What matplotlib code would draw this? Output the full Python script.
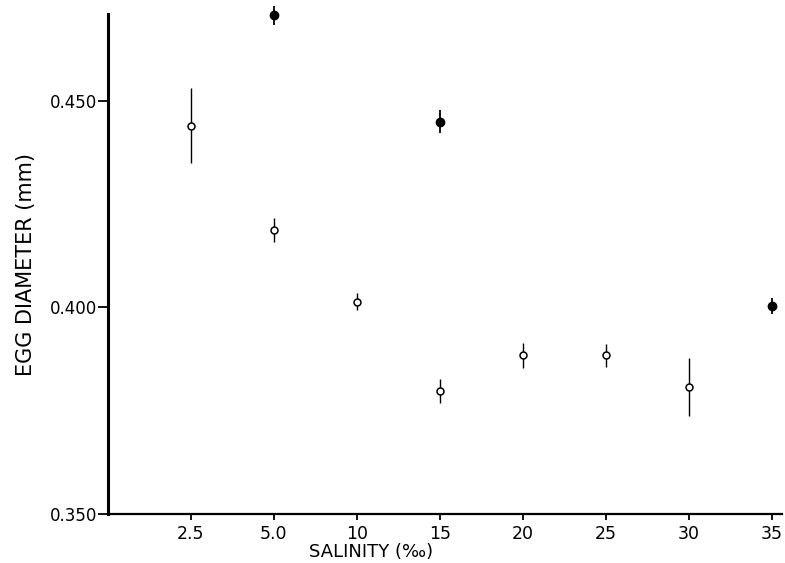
import numpy as np
import matplotlib
matplotlib.use("Agg")
import matplotlib.pyplot as plt

plt.rcParams['font.family'] = ['DejaVu Sans']

salinity = ['2.5', '5.0', '10', '15', '20', '25', '30', '35']

# open circles
open_sal = ['2.5', '5.0', '10', '15', '20', '25', '30']
open_mean = [0.444, 0.4188, 0.4014, 0.3797, 0.3884, 0.3884, 0.3807]
open_err = [0.0091, 0.0029, 0.0020, 0.0029, 0.0031, 0.0028, 0.0070]

# filled circles
fill_sal = ['5.0', '15', '35']
fill_mean = [0.4707, 0.4449, 0.4003]
fill_err = [0.0023, 0.0028, 0.0020]

pos = {s: i + 1 for i, s in enumerate(salinity)}

fig = plt.figure(figsize=(7.85, 5.63), dpi=100)
ax = fig.add_axes([0.1376, 0.087, 0.858, 0.888])

xo = [pos[s] for s in open_sal]
xf = [pos[s] for s in fill_sal]
eb1 = ax.errorbar(xo, open_mean, yerr=open_err, fmt='o', ms=5, mfc='white', mec='black',
                  mew=1.1, ecolor='black', elinewidth=1.0, capsize=0, zorder=3)
eb2 = ax.errorbar(xf, fill_mean, yerr=fill_err, fmt='o', ms=6, mfc='black', mec='black',
                  ecolor='black', elinewidth=1.3, capsize=0, zorder=3)
for eb in (eb1, eb2):
    eb[0].set_clip_on(False)
    for c in eb[2]:
        c.set_clip_on(False)

ax.set_xlim(0, 8.12)
ax.set_ylim(0.350, 0.471)
ax.set_xticks(range(1, 9))
ax.set_xticklabels(salinity)
ax.set_yticks([0.350, 0.400, 0.450])
ax.set_yticklabels(['0.350', '0.400', '0.450'])

for s in ['top', 'right']:
    ax.spines[s].set_visible(False)
ax.spines['left'].set_linewidth(2.2)
ax.spines['bottom'].set_linewidth(1.6)

ax.tick_params(axis='y', direction='out', length=7, width=1.3, labelsize=12, pad=1)
ax.tick_params(axis='x', direction='out', length=4, width=1.3, labelsize=12.5, pad=4)

ax.set_xlabel('SALINITY (‰)', fontsize=13, labelpad=1)
ax.xaxis.set_label_coords(0.39, -0.058)
ax.set_ylabel('EGG DIAMETER (mm)', fontsize=15, labelpad=10)

fig.savefig('out.png', dpi=100)
